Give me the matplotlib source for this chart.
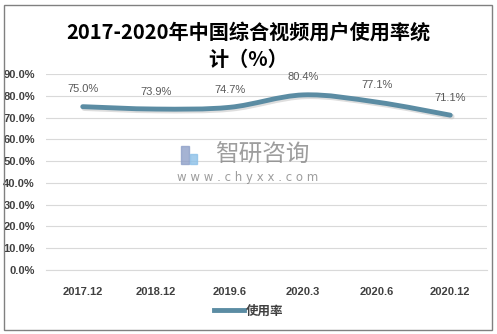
import matplotlib.pyplot as plt
import matplotlib.transforms as mtransforms
from matplotlib.path import Path
from matplotlib.patches import PathPatch, Rectangle
from matplotlib.lines import Line2D
import numpy as np

plt.rcParams['font.family'] = ['Noto Sans CJK SC', 'DejaVu Sans']

categories = ["2017.12", "2018.12", "2019.6", "2020.3", "2020.6", "2020.12"]
values = [75.0, 73.9, 74.7, 80.4, 77.1, 71.1]
yticks = [0, 10, 20, 30, 40, 50, 60, 70, 80, 90]
line_color = "#5b8ca3"
tick_font = ["Liberation Sans"]

fig = plt.figure(figsize=(4.97, 3.34), dpi=100)
ax = fig.add_axes([46 / 497, 1 - 270 / 334, 441 / 497, 196 / 334])

x = np.arange(len(categories))
ax.set_xlim(-0.5, len(categories) - 0.5)
ax.set_ylim(0, 90)

# smooth line through the points (Catmull-Rom as cubic Bezier)
verts = [(x[0], values[0])]
codes = [Path.MOVETO]
pts = list(zip(x, values))
for i in range(len(pts) - 1):
    p0 = pts[i - 1] if i > 0 else pts[i]
    p1 = pts[i]
    p2 = pts[i + 1]
    p3 = pts[i + 2] if i + 2 < len(pts) else pts[i + 1]
    c1 = (p1[0] + (p2[0] - p0[0]) / 6, p1[1] + (p2[1] - p0[1]) / 6)
    c2 = (p2[0] - (p3[0] - p1[0]) / 6, p2[1] - (p3[1] - p1[1]) / 6)
    verts += [c1, c2, p2]
    codes += [Path.CURVE4] * 3
path = Path(verts, codes)
shadow = ax.transData + mtransforms.ScaledTranslation(1.5 / 100, -1.5 / 100, fig.dpi_scale_trans)
ax.add_patch(PathPatch(path, facecolor="none", edgecolor="#c8c8c8", lw=4,
                       capstyle="round", alpha=0.6, transform=shadow))
ax.add_patch(PathPatch(path, facecolor="none", edgecolor=line_color, lw=3.5,
                       capstyle="round", zorder=3))

for xi, v in zip(x, values):
    ax.annotate(f"{v:.1f}%", (xi, v), xytext=(0, 9), textcoords="offset points",
                ha="center", va="bottom", fontsize=8, color="#595959",
                family=tick_font)

ax.set_yticks(yticks)
ax.set_yticklabels([f"{t:.1f}%" for t in yticks], fontsize=8, fontweight="bold",
                   color="#404040", family=tick_font)
ax.set_xticks(x)
ax.set_xticklabels(categories, fontsize=8, fontweight="bold", color="#404040",
                   family=tick_font)
ax.tick_params(length=0, axis="y", pad=8)
ax.tick_params(length=0, axis="x", pad=12)
ax.grid(axis="y", color="#d9d9d9", lw=0.8)
ax.set_axisbelow(True)
for s in ["top", "right", "left"]:
    ax.spines[s].set_visible(False)
ax.spines["bottom"].set_color("#d9d9d9")

# title
fig.text(0.5, 1 - 32 / 334, "2017-2020年中国综合视频用户使用率统", ha="center", va="center",
         fontsize=14.5, fontweight="bold", color="#000000")
fig.text(0.5, 1 - 59 / 334, "计（%）", ha="center", va="center",
         fontsize=14.5, fontweight="bold", color="#000000")

# watermark
fig.text(262 / 497, 1 - 155 / 334, "智研咨询", ha="center", va="center",
         fontsize=17, color="#8c8c8c", alpha=0.85)
fig.text(248 / 497, 1 - 177 / 334, "w w w . c h y x x . c o m", ha="center", va="center",
         fontsize=8.5, color="#8c8c8c", alpha=0.85, family=["DejaVu Sans"])
fig.patches.append(Rectangle((181 / 497, 1 - 164 / 334), 8 / 497, 18 / 334,
                             transform=fig.transFigure, color="#8fa0c8", alpha=0.8))
fig.patches.append(Rectangle((190 / 497, 1 - 164 / 334), 7 / 497, 10 / 334,
                             transform=fig.transFigure, color="#8cc0e8", alpha=0.8))

# legend
leg = fig.legend([Line2D([0], [0], color=line_color, lw=3.5)], ["使用率"],
                 loc="center", bbox_to_anchor=(0.5, 1 - 311 / 334), frameon=False,
                 fontsize=9, handlelength=2.4, handletextpad=0.2)
for t in leg.get_texts():
    t.set_color("#404040")
    t.set_fontweight("bold")

# outer border
fig.patches.append(Rectangle((4 / 497, 4 / 334), 488 / 497, 325 / 334,
                             transform=fig.transFigure, fill=False,
                             edgecolor="#808080", lw=1))

fig.savefig("out.png", dpi=100)
